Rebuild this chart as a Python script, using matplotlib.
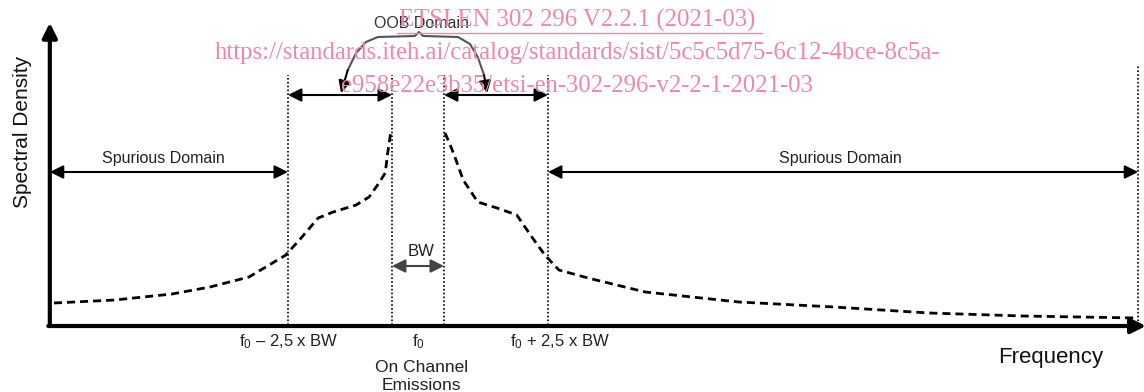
import matplotlib.pyplot as plt

plt.rcParams['font.family'] = ['Liberation Sans', 'DejaVu Sans']
plt.rcParams['mathtext.fontset'] = 'custom'
plt.rcParams['mathtext.rm'] = 'Liberation Sans'
plt.rcParams['mathtext.it'] = 'Liberation Sans'
plt.rcParams['mathtext.default'] = 'regular'

# frequency in units of BW around f0, spectral density in arbitrary units
left_x = [-7.0, -5.83, -4.73, -4.0, -3.25, -2.54, -2.23, -1.92, -1.63, -1.19, -0.94, -0.75, -0.63, -0.58, -0.52]
left_y = [22, 25, 31, 38, 48, 70, 88, 107, 113, 120, 128, 142, 152, 173, 194]
right_x = [0.52, 0.62, 0.71, 0.87, 1.15, 1.52, 1.90, 2.19, 2.44, 2.71, 3.27, 4.37, 6.17, 8.0, 9.83, 11.63, 13.83]
right_y = [192, 180, 168, 145, 123, 117, 110, 88, 70, 55, 47, 33, 23, 18, 12, 9, 7]

bounds = [-2.5, -0.5, 0.5, 2.5]
bound_top = 250
far_edge = 13.85
far_top = 260

tick_pos = [-2.48, 0, 2.73]
tick_labels = [r'f$_0$ – 2,5 x BW', r'f$_0$', r'f$_0$ + 2,5 x BW']

# OOB brace
brace_x = [-1.48, -1.35, -1.19, -1.0, -0.77, -0.06, 0.02, 0.1, 0.77, 1.0, 1.15, 1.27, 1.33]
brace_y = [232, 255, 272, 283, 288, 289, 293, 289, 288, 281, 268, 250, 232]

watermark = ['ETSI EN 302 296 V2.2.1 (2021-03)',
             'https://standards.iteh.ai/catalog/standards/sist/5c5c5d75-6c12-4bce-8c5a-',
             'e958e22e3b35/etsi-en-302-296-v2-2-1-2021-03']

fig = plt.figure(figsize=(11.44, 3.92), dpi=100)
ax = fig.add_axes([0, 0, 1, 1])
ax.set_xlim(-8.038, 13.962)
ax.set_ylim(-67, 325)
ax.axis('off')

x0 = -7.08
dash = (0, (2.9, 1.8))
ax.plot(left_x, left_y, color='black', lw=2, linestyle=dash)
ax.plot(right_x, right_y, color='black', lw=2, linestyle=dash)

for b in bounds:
    ax.plot([b, b], [0, bound_top], color='black', lw=1.2, linestyle=(0, (1, 1.3)))
ax.plot([far_edge, far_edge], [0, far_top], color='black', lw=1.2, linestyle=(0, (1, 1.3)))

# axes with arrows
ax.annotate('', xy=(x0, 305), xytext=(x0, -1.5), annotation_clip=False,
            arrowprops=dict(arrowstyle='-|>', color='black', lw=3, mutation_scale=22))
ax.annotate('', xy=(14.0, -1), xytext=(x0 - 0.03, -1), annotation_clip=False,
            arrowprops=dict(arrowstyle='-|>', color='black', lw=3, mutation_scale=22,
                            shrinkA=0, shrinkB=0))

def span(xa, xb, y, color='black', lw=1.5):
    ax.annotate('', xy=(xb, y), xytext=(xa, y), annotation_clip=False,
                arrowprops=dict(arrowstyle='<|-|>', color=color, lw=lw,
                                mutation_scale=20, shrinkA=0, shrinkB=0))

span(x0, bounds[0], 153)
span(bounds[3], far_edge, 153)
span(bounds[0], bounds[1], 230)
span(bounds[2], bounds[3], 230)
span(bounds[1], bounds[2], 59, color='#444444')

ax.plot(brace_x[1:-1], brace_y[1:-1], color='#555555', lw=1.5)
ax.annotate('', xy=(brace_x[0], brace_y[0]), xytext=(brace_x[1], brace_y[1]),
            arrowprops=dict(arrowstyle='-|>', color='black', lw=1.5, mutation_scale=18,
                            shrinkA=0, shrinkB=0))
ax.annotate('', xy=(brace_x[-1], brace_y[-1]), xytext=(brace_x[-2], brace_y[-2]),
            arrowprops=dict(arrowstyle='-|>', color='black', lw=1.5, mutation_scale=18,
                            shrinkA=0, shrinkB=0))

ax.text(-4.9, 167, 'Spurious Domain', ha='center', va='center', fontsize=11.5, color='#222222')
ax.text(8.12, 167, 'Spurious Domain', ha='center', va='center', fontsize=11.5, color='#222222')
ax.text(0.06, 302, 'OOB Domain', ha='center', va='center', fontsize=11.5, color='#333333')
ax.text(0.06, 73, 'BW', ha='center', va='center', fontsize=12, color='#222222')

for p, t in zip(tick_pos, tick_labels):
    ax.text(p, -17, t, ha='center', va='center', fontsize=12, color='#222222')
ax.text(0.06, -42, 'On Channel', ha='center', va='center', fontsize=12.5, color='#222222')
ax.text(0.06, -60, 'Emissions', ha='center', va='center', fontsize=12.5, color='#222222')
ax.text(12.17, -33, 'Frequency', ha='center', va='center', fontsize=16, color='#111111')
ax.text(-7.6, 193, 'Spectral Density', ha='center', va='center', rotation=90,
        fontsize=15, color='#111111')

pink = '#ef88a8'
wy = [1 - 20 / 392, 1 - 53 / 392, 1 - 86 / 392]
for t, yy in zip(watermark, wy):
    ax.text(0.5045, yy, t, transform=ax.transAxes, ha='center', va='center',
            fontsize=17.8, color=pink, family='Liberation Serif')
ax.plot([397 / 1144, 762 / 1144], [1 - 33 / 392] * 2, transform=ax.transAxes,
        color=pink, lw=1)

fig.savefig('out.png', dpi=100)
